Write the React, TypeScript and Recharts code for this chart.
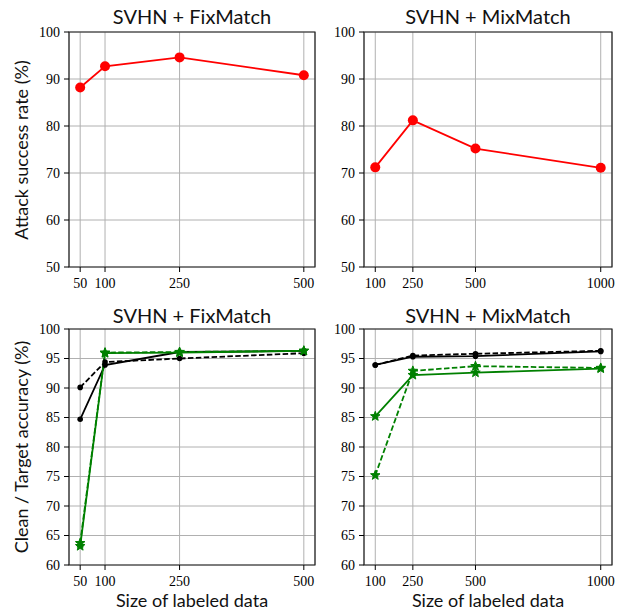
import { LineChart, Line, XAxis, YAxis, CartesianGrid, ReferenceArea } from "recharts";

// labeled-data sizes
const fixSizes = [50, 100, 250, 500];
const mixSizes = [100, 250, 500, 1000];

// attack success rate (%)
const fixAttack = [88.2, 92.7, 94.6, 90.8];
const mixAttack = [71.2, 81.2, 75.2, 71.1];

// clean / target accuracy (%) - FixMatch
const fixCleanSolid = [84.7, 93.9, 96.1, 96.3];
const fixCleanDashed = [90.1, 94.4, 95.0, 95.9];
const fixTargetSolid = [63.2, 95.9, 96.0, 96.3];
const fixTargetDashed = [63.7, 96.0, 96.1, 96.3];

// clean / target accuracy (%) - MixMatch
const mixCleanSolid = [93.9, 95.3, 95.4, 96.2];
const mixCleanDashed = [93.9, 95.5, 95.8, 96.3];
const mixTargetSolid = [85.2, 92.2, 92.6, 93.3];
const mixTargetDashed = [75.2, 92.9, 93.7, 93.4];

const attackTicks = [50, 60, 70, 80, 90, 100];
const accTicks = [60, 65, 70, 75, 80, 85, 90, 95, 100];

const RED = "#ff0000";
const GREEN = "#008000";
const BLACK = "#000000";
const DASH = "5.5 2.4";

const serif = "'Liberation Serif', 'DejaVu Serif', serif";
const sans = "Lato, 'DejaVu Sans', sans-serif";

type Series = { key: string; color: string; dashed?: boolean; marker: "big" | "small" | "star" };

const makeDot = (marker: Series["marker"], color: string) => (props: any) => {
  const { cx, cy, index } = props;
  if (cx == null || cy == null) return <g key={index} />;
  if (marker === "star") {
    const R = 5;
    const r = 2.1;
    const pts: string[] = [];
    for (let i = 0; i < 10; i++) {
      const rad = i % 2 === 0 ? R : r;
      const a = -Math.PI / 2 + (i * Math.PI) / 5;
      pts.push(`${cx + rad * Math.cos(a)},${cy + rad * Math.sin(a)}`);
    }
    return <polygon key={index} points={pts.join(" ")} fill={color} stroke={color} strokeWidth={1} />;
  }
  const rr = marker === "big" ? 5 : 2.8;
  return <circle key={index} cx={cx} cy={cy} r={rr} fill={color} stroke="none" />;
};

const buildRows = (xs: number[], cols: Record<string, number[]>) =>
  xs.map((x, i) => {
    const row: Record<string, number> = { x };
    Object.keys(cols).forEach((k) => (row[k] = cols[k][i]));
    return row;
  });

interface PanelProps {
  left: number;
  top: number;
  width: number;
  height: number;
  yAxisWidth: number;
  xAxisHeight: number;
  marginTop: number;
  marginRight: number;
  xs: number[];
  yTicks: number[];
  rows: Record<string, number>[];
  series: Series[];
}

const Panel = ({ left, top, width, height, yAxisWidth, xAxisHeight, marginTop, marginRight, xs, yTicks, rows, series }: PanelProps) => {
  const span = xs[xs.length - 1] - xs[0];
  const xDomain = [xs[0] - span * 0.05, xs[xs.length - 1] + span * 0.05];
  const yDomain = [yTicks[0], yTicks[yTicks.length - 1]];
  return (
    <div style={{ position: "absolute", left, top }}>
      <LineChart width={width} height={height} data={rows} margin={{ top: marginTop, right: marginRight, bottom: 0, left: 0 }}>
        <CartesianGrid stroke="#b0b0b0" strokeWidth={1} />
        <XAxis
          dataKey="x"
          type="number"
          domain={xDomain}
          ticks={xs}
          allowDataOverflow
          height={xAxisHeight}
          axisLine={false}
          tickLine={{ stroke: BLACK }}
          tickSize={5}
          tickMargin={6}
          tick={{ fill: BLACK, fontSize: 14, fontFamily: serif }}
          interval={0}
        />
        <YAxis
          type="number"
          domain={yDomain}
          ticks={yTicks}
          allowDataOverflow
          width={yAxisWidth}
          axisLine={false}
          tickLine={{ stroke: BLACK }}
          tickSize={5}
          tickMargin={4}
          tick={{ fill: BLACK, fontSize: 14, fontFamily: serif }}
          interval={0}
        />
        {series.map((s) => (
          <Line
            key={s.key}
            dataKey={s.key}
            type="linear"
            stroke={s.color}
            strokeWidth={1.8}
            strokeDasharray={s.dashed ? DASH : undefined}
            dot={makeDot(s.marker, s.color)}
            activeDot={false}
            isAnimationActive={false}
          />
        ))}
        <ReferenceArea
          x1={xDomain[0]}
          x2={xDomain[1]}
          y1={yDomain[0]}
          y2={yDomain[1]}
          fill="none"
          stroke="#222"
          strokeWidth={1.2}
          ifOverflow="visible"
        />
      </LineChart>
    </div>
  );
};

const Text = ({ x, y, text, size, rotate }: { x: number; y: number; text: string; size: number; rotate?: boolean }) => (
  <div
    style={{
      position: "absolute",
      left: x,
      top: y,
      transform: `translate(-50%, -50%)${rotate ? " rotate(-90deg)" : ""}`,
      whiteSpace: "nowrap",
      fontFamily: sans,
      fontWeight: 400,
      fontSize: size,
      color: "#111",
      lineHeight: 1,
    }}
  >
    {text}
  </div>
);

const accSeries: Series[] = [
  { key: "cleanSolid", color: BLACK, marker: "small" },
  { key: "cleanDashed", color: BLACK, dashed: true, marker: "small" },
  { key: "targetSolid", color: GREEN, marker: "star" },
  { key: "targetDashed", color: GREEN, dashed: true, marker: "star" },
];

export default function App() {
  const fixAttackRows = buildRows(fixSizes, { attack: fixAttack });
  const mixAttackRows = buildRows(mixSizes, { attack: mixAttack });
  const fixAccRows = buildRows(fixSizes, {
    cleanSolid: fixCleanSolid,
    cleanDashed: fixCleanDashed,
    targetSolid: fixTargetSolid,
    targetDashed: fixTargetDashed,
  });
  const mixAccRows = buildRows(mixSizes, {
    cleanSolid: mixCleanSolid,
    cleanDashed: mixCleanDashed,
    targetSolid: mixTargetSolid,
    targetDashed: mixTargetDashed,
  });
  const attackSeries: Series[] = [{ key: "attack", color: RED, marker: "big" }];

  return (
    <div style={{ position: "absolute", left: 0, top: 0, width: 618, height: 610, background: "#fff", overflow: "hidden" }}>
      <Panel left={0} top={0} width={320} height={300} yAxisWidth={69} xAxisHeight={33} marginTop={32} marginRight={5}
        xs={fixSizes} yTicks={attackTicks} rows={fixAttackRows} series={attackSeries} />
      <Panel left={300} top={0} width={318} height={300} yAxisWidth={64} xAxisHeight={33} marginTop={32} marginRight={6}
        xs={mixSizes} yTicks={attackTicks} rows={mixAttackRows} series={attackSeries} />
      <Panel left={0} top={300} width={320} height={310} yAxisWidth={69} xAxisHeight={45} marginTop={29} marginRight={5}
        xs={fixSizes} yTicks={accTicks} rows={fixAccRows} series={accSeries} />
      <Panel left={300} top={300} width={318} height={310} yAxisWidth={64} xAxisHeight={45} marginTop={29} marginRight={6}
        xs={mixSizes} yTicks={accTicks} rows={mixAccRows} series={accSeries} />

      <Text x={192} y={16} text="SVHN + FixMatch" size={20} />
      <Text x={488} y={16} text="SVHN + MixMatch" size={20} />
      <Text x={192} y={315} text="SVHN + FixMatch" size={20} />
      <Text x={488} y={315} text="SVHN + MixMatch" size={20} />
      <Text x={21} y={150} text="Attack success rate (%)" size={18} rotate />
      <Text x={21} y={447} text="Clean / Target accuracy (%)" size={18} rotate />
      <Text x={192} y={600} text="Size of labeled data" size={18} />
      <Text x={488} y={600} text="Size of labeled data" size={18} />
    </div>
  );
}
